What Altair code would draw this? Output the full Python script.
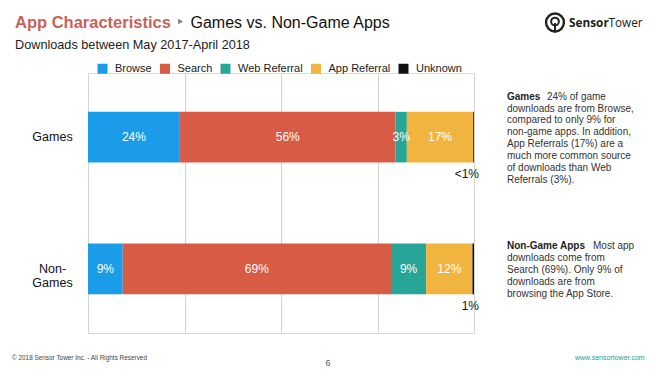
import altair as alt
import pandas as pd

# ---------------- data ----------------
categories = ["Games", "Non-Games"]
sources = ["Browse", "Search", "Web Referral", "App Referral", "Unknown"]
colors = ["#1b9ce9", "#d85b46", "#27a597", "#f1b43e", "#111111"]
games_values = [23.8, 55.9, 2.9, 17.2, 0.2]
nongames_values = [9.0, 69.5, 9.1, 12.0, 0.4]
games_labels = ["24%", "56%", "3%", "17%", ""]
nongames_labels = ["9%", "69%", "9%", "12%", ""]
end_labels = ["<1%", "1%"]

title_main = "App Characteristics"
title_rest = "Games vs. Non-Game Apps"
subtitle = "Downloads between May 2017-April 2018"

games_note_bold = "Games"
games_note_first = "24% of game"
games_note_lines = [
    "downloads are from Browse,",
    "compared to only 9% for",
    "non-game apps. In addition,",
    "App Referrals (17%) are a",
    "much more common source",
    "of downloads than Web",
    "Referrals (3%).",
]
non_note_bold = "Non-Game Apps"
non_note_first = "Most app"
non_note_lines = [
    "downloads come from",
    "Search (69%). Only 9% of",
    "downloads are from",
    "browsing the App Store.",
]
footer_left = "\u00a9 2018 Sensor Tower Inc. - All Rights Reserved"
footer_page = "6"
footer_right = "www.sensortower.com"
logo_bold = "Sensor"
logo_rest = "Tower"

FONT = "Liberation Sans"

rows = []
for cat, vals, labs in [("Games", games_values, games_labels),
                        ("Non-Games", nongames_values, nongames_labels)]:
    for i, (s, v, l) in enumerate(zip(sources, vals, labs)):
        rows.append({"category": cat, "source": s, "order": i, "value": v, "label": l})
df = pd.DataFrame(rows)

x_scale = alt.Scale(domain=[0, 100], nice=False)
y_scale = alt.Scale(domain=categories, paddingInner=0.616, paddingOuter=0.295)

bars = alt.Chart(df).mark_bar().encode(
    x=alt.X("value:Q", stack="zero", scale=x_scale,
            axis=alt.Axis(values=[0, 25, 50, 75, 100], labels=False, ticks=False,
                          title=None, grid=True, gridColor="#d4d4d4", gridWidth=1,
                          domainColor="#d4d4d4", domainWidth=1)),
    y=alt.Y("category:N", scale=y_scale,
            axis=alt.Axis(title=None, domain=False, ticks=False, labelAlign="center",
                          labelPadding=36, labelFontSize=12.5, labelColor="#111",
                          labelFont=FONT, labelLineHeight=14,
                          labelExpr="datum.value == 'Non-Games' ? ['Non-', 'Games'] : datum.value")),
    color=alt.Color("source:N", scale=alt.Scale(domain=sources, range=colors),
                    legend=alt.Legend(orient="none", legendX=9, legendY=-10,
                                      direction="horizontal", title=None,
                                      symbolType="square", symbolSize=100,
                                      symbolStrokeWidth=0, labelFontSize=11,
                                      labelFont=FONT, labelColor="#222",
                                      labelOffset=7, columnPadding=7.5, padding=0)),
    order=alt.Order("order:Q"),
)

seg_labels = alt.Chart(df).transform_stack(
    stack="value", groupby=["category"], as_=["v0", "v1"],
    sort=[alt.SortField("order", order="ascending")],
).transform_calculate(mid="(datum.v0 + datum.v1) / 2").mark_text(
    color="white", fontSize=12, font=FONT, baseline="middle"
).encode(
    x=alt.X("mid:Q", scale=x_scale),
    y=alt.Y("category:N", scale=y_scale),
    text="label:N",
)

end_df = pd.DataFrame({"category": categories, "text": end_labels, "x": [100, 100]})
end_text = alt.Chart(end_df).mark_text(
    align="right", dx=5, dy=37, fontSize=12, font=FONT, color="#111", baseline="middle"
).encode(x=alt.X("x:Q", scale=x_scale), y=alt.Y("category:N", scale=y_scale), text="text:N")


def txt(s, x, y, size, color="#222", weight="normal", align="left", font=FONT,
        baseline="alphabetic", line_height=None):
    kw = dict(align=align, baseline=baseline, fontSize=size, font=font, color=color,
              fontWeight=weight)
    if line_height is not None:
        kw.update(lineBreak="\n", lineHeight=line_height)
    return alt.Chart(pd.DataFrame({"t": [s]})).mark_text(**kw).encode(
        x=alt.value(x), y=alt.value(y), text="t:N")


# page coords -> plot coords: (x - 88, y - 73)
layers = [
    bars, seg_labels, end_text,
    txt(title_main, -73, -45.5, 16.5, color="#c6635a", weight="bold"),
    alt.Chart(pd.DataFrame({"a": [0]})).mark_point(
        shape="triangle-right", filled=True, size=28, color="#7a7a7a", opacity=1
    ).encode(x=alt.value(92.5), y=alt.value(-51.5)),
    txt(title_rest, 102.5, -45.5, 16, color="#111"),
    txt(subtitle, -73, -24.5, 12.7, color="#222"),
    # logo
    alt.Chart(pd.DataFrame({"a": [0]})).mark_point(
        shape="circle", filled=False, size=320, strokeWidth=2.4, color="#222", opacity=1
    ).encode(x=alt.value(467), y=alt.value(-50.5)),
    alt.Chart(pd.DataFrame({"a": [0]})).mark_point(
        shape="circle", filled=False, size=60, strokeWidth=2, color="#222", opacity=1
    ).encode(x=alt.value(467), y=alt.value(-51.5)),
    alt.Chart(pd.DataFrame({"a": [0]})).mark_rule(color="#222", strokeWidth=2).encode(
        x=alt.value(467), y=alt.value(-50), y2=alt.value(-40.5)),
    txt(logo_bold, 481, -46, 11.8, color="#222", weight="bold", font="Open Sans"),
    txt(logo_rest, 520.5, -46, 11.8, color="#222", font="Open Sans"),
    # notes
    txt(games_note_bold, 419, 26.5, 10, color="#222", weight="bold"),
    txt(games_note_first, 459, 26.5, 10, color="#333"),
    txt("\n".join(games_note_lines), 419, 38.5, 10, color="#333", line_height=11.9),
    txt(non_note_bold, 419, 175.5, 10, color="#222", weight="bold"),
    txt(non_note_first, 505, 175.5, 10, color="#333"),
    txt("\n".join(non_note_lines), 419, 187.5, 10, color="#333", line_height=12),
    # footer
    txt(footer_left, -76, 287, 6.4, color="#444"),
    txt(footer_page, 240, 293, 9, color="#555", align="center"),
    txt(footer_right, 487, 287, 7, color="#2a9d8f"),
]

chart = alt.layer(*layers).properties(
    width=386, height=260,
    padding={"left": 80, "top": 65, "right": 174, "bottom": 37},
    autosize=alt.AutoSizeParams(type="none"),
    background="white",
).configure_view(stroke=None).configure(font=FONT)

chart.save("out.html", embed_options={"renderer": "svg", "actions": False})
